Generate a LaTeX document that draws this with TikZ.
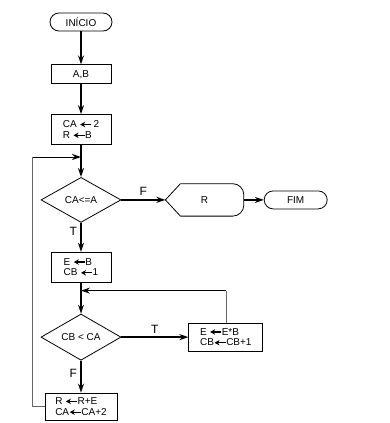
\documentclass[tikz,border=0pt]{standalone}
\usepackage{fontspec}
\setmainfont{Liberation Sans}
\usetikzlibrary{arrows.meta,positioning,shapes.geometric,calc}
\tikzset{
  arr/.style={-{Stealth[length=9pt,width=6pt]},line width=1.6pt},
  backline/.style={draw=black!60,line width=0.6pt},
  procbox/.style={draw,line width=0.8pt,minimum width=60pt,minimum height=30pt,align=left,inner sep=2pt,font=\linespread{0.9}\selectfont},
  termbox/.style={draw,line width=0.8pt,rounded corners=9pt,minimum width=62pt,minimum height=18pt,inner sep=1pt},
  decbox/.style={draw,diamond,line width=0.8pt,minimum width=80pt,minimum height=45pt,inner sep=0pt},
  lbl/.style={font=\large}
}
\newcommand{\seta}{\tikz[baseline=-0.6ex]\draw[line width=1.3pt,-{Stealth[length=5pt,width=5.5pt]}] (11pt,0pt) -- (0pt,0pt);}

\begin{document}
\begin{tikzpicture}[x=1pt,y=-1pt]
  \useasboundingbox (0,0) rectangle (390,423);
  \node[termbox] (inicio) at (81,22) {INÍCIO};
  \node[procbox,minimum height=19pt,below=33pt of inicio] (ab) {A,B};
  \node[procbox,below=30pt of ab] (init) {CA \seta\,2\\R \seta B};
  \node[decbox,below=32pt of init] (cond1) {CA<=A};
  \node[minimum width=78pt,minimum height=32pt,inner sep=0pt,right=44pt of cond1] (res) {R};
  \node[termbox,minimum width=63pt,right=20pt of res] (fim) {FIM};
  \node[procbox,below=29pt of cond1] (inner) {E \seta B\\CB \seta 1};
  \node[decbox,minimum height=42pt,below=31pt of inner] (cond2) {CB < CA};
  \node[procbox,minimum width=74pt,minimum height=28pt,right=67pt of cond2] (mult) {E \seta E*B\\CB\seta CB+1};
  \node[procbox,minimum width=72pt,minimum height=27pt,below=32pt of cond2] (incr) {R \seta R+E\\CA\seta CA+2};
  % display shape for R
  \draw[line width=0.8pt,rounded corners=11pt] ([xshift=15pt]res.north west) -- (res.north east) -- (res.south east) -- ([xshift=15pt]res.south west);
  \draw[line width=0.8pt] ([xshift=15pt]res.south west) -- (res.west) -- ([xshift=15pt]res.north west);
  \coordinate[below=12pt of init] (j1);
  \coordinate[below=8pt of inner] (j2);
  \coordinate (c1) at ([xshift=-12pt]incr.west |- j1);
  \coordinate (c2) at (mult.north |- j2);
  \draw[arr] (inicio) -- (ab);\draw[arr] (ab) -- (init);\draw[arr] (init) -- (cond1);
  \draw[arr] (cond1) -- node[lbl,above]{F} (res);\draw[arr] (res) -- (fim);
  \draw[arr] (cond1) -- node[lbl,left,pos=0.3]{T} (inner);
  \draw[arr] (inner) -- (cond2);
  \draw[arr] (cond2) -- node[lbl,above]{T} (mult);
  \draw[arr] (cond2) -- node[lbl,left,pos=0.4]{F} (incr);
  \draw[backline] (incr.west) -| (c1);\draw[arr,line width=1pt] (c1) -- (j1);
  \draw[backline] (mult.north) -- (c2);\draw[arr] (c2) -- (j2);
\end{tikzpicture}
\end{document}
